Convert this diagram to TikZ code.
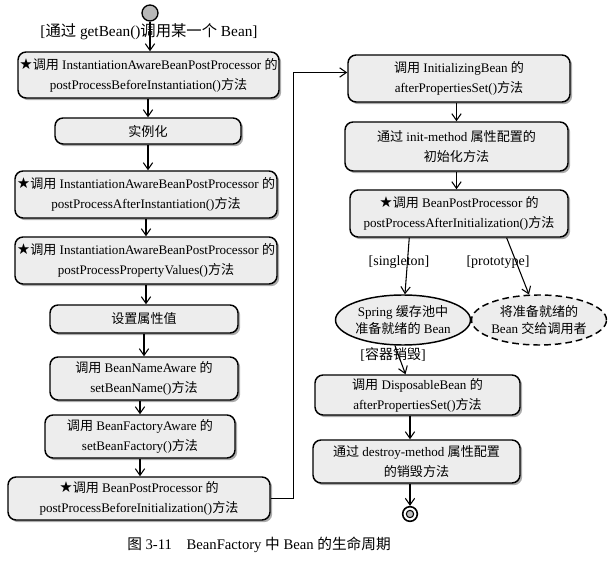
\documentclass[tikz,border=0pt]{standalone}
\usepackage{fontspec}
\setmainfont{Liberation Serif}
\newfontfamily\cjk{Noto Sans CJK SC}
\newfontfamily\symfont{DejaVu Sans}
\newcommand\zh[1]{{\cjk #1}}
\newcommand\bstar{{\symfont\scalebox{1.15}{★}}}
\usetikzlibrary{arrows.meta,shadows,shapes.geometric,calc}
\begin{document}
\begin{tikzpicture}[x=0.75pt,y=-0.75pt,
  arr/.style={draw=black,line width=0.8pt,-{Straight Barb[length=5pt,width=7pt,line width=0.8pt]}},
  boxbase/.style={draw=black,line width=1.1pt,rounded corners=6pt,fill=gray!14,
     drop shadow={shadow xshift=1.6pt,shadow yshift=-1.6pt,fill=gray!65,opacity=1},
     align=center,inner sep=0pt,font=\fontsize{9.8pt}{15pt}\selectfont},
  lab/.style={font=\fontsize{10.5pt}{12pt}\selectfont,inner sep=1pt},
  ell/.style={ellipse,draw=black,line width=1.1pt,fill=gray!14,align=center,inner sep=0pt,
     font=\fontsize{9.8pt}{13pt}\selectfont}
]
\useasboundingbox (0,0) rectangle (608,563);
% start
\node[circle,draw=black,line width=1pt,fill=gray!55,minimum size=12pt,inner sep=0pt] (start) at (150,13) {};
\node[lab,font=\fontsize{11.5pt}{13pt}\selectfont] (l0) at (149,32) {[\zh{通过} getBean()\zh{调用某一个} Bean]};
% left column
\node[boxbase,minimum width=261*0.75pt,minimum height=46*0.75pt] (b1) at (148.5,75)
 {\bstar\zh{调用} InstantiationAwareBeanPostProcessor \zh{的}\\postProcessBeforeInstantiation()\zh{方法}};
\node[boxbase,minimum width=186*0.75pt,minimum height=26*0.75pt] (b2) at (148,131) {\zh{实例化}};
\node[boxbase,minimum width=262*0.75pt,minimum height=47*0.75pt] (b3) at (146,194.5)
 {\bstar\zh{调用} InstantiationAwareBeanPostProcessor \zh{的}\\postProcessAfterInstantiation()\zh{方法}};
\node[boxbase,minimum width=262*0.75pt,minimum height=47*0.75pt] (b4) at (146,260.5)
 {\bstar\zh{调用} InstantiationAwareBeanPostProcessor \zh{的}\\postProcessPropertyValues()\zh{方法}};
\node[boxbase,minimum width=188*0.75pt,minimum height=28*0.75pt] (b5) at (144,319) {\zh{设置属性值}};
\node[boxbase,minimum width=188*0.75pt,minimum height=43*0.75pt] (b6) at (144,378.5)
 {\zh{调用} BeanNameAware \zh{的}\\setBeanName()\zh{方法}};
\node[boxbase,minimum width=190*0.75pt,minimum height=43*0.75pt] (b7) at (140,436.5)
 {\zh{调用} BeanFactoryAware \zh{的}\\setBeanFactory()\zh{方法}};
\node[boxbase,minimum width=262*0.75pt,minimum height=43*0.75pt] (b8) at (139,498.5)
 {\bstar\zh{调用} BeanPostProcessor \zh{的}\\postProcessBeforeInitialization()\zh{方法}};
% right column
\node[boxbase,minimum width=222*0.75pt,minimum height=47*0.75pt] (b9) at (459,78.5)
 {\zh{调用} InitializingBean \zh{的}\\afterPropertiesSet()\zh{方法}};
\node[boxbase,minimum width=223*0.75pt,minimum height=49*0.75pt] (b10) at (456.5,146.5)
 {\zh{通过} init-method \zh{属性配置的}\\\zh{初始化方法}};
\node[boxbase,minimum width=218*0.75pt,minimum height=47*0.75pt] (b11) at (459,213.5)
 {\bstar\zh{调用} BeanPostProcessor \zh{的}\\postProcessAfterInitialization()\zh{方法}};
\node[ell,minimum width=126*0.75pt,minimum height=50*0.75pt] (e1) at (403,320)
 {Spring \zh{缓存池中}\\\zh{准备就绪的} Bean};
\node[ell,dashed,dash pattern=on 5pt off 3pt,minimum width=128*0.75pt,minimum height=50*0.75pt] (e2) at (539,320)
 {\zh{将准备就绪的}\\Bean \zh{交给调用者}};
\node[boxbase,minimum width=205*0.75pt,minimum height=40*0.75pt] (b12) at (417.5,395)
 {\zh{调用} DisposableBean \zh{的}\\afterPropertiesSet()\zh{方法}};
\node[boxbase,minimum width=207*0.75pt,minimum height=43*0.75pt] (b13) at (416.5,461.5)
 {\zh{通过} destroy-method \zh{属性配置}\\\zh{的销毁方法}};
% end
\node[circle,draw=black,line width=1.2pt,fill=white,minimum size=11pt,inner sep=0pt] (end) at (410,514) {};
\node[circle,draw=black,line width=0.8pt,fill=gray!50,minimum size=5.5pt,inner sep=0pt] (endin) at (410,514) {};
% labels
\node[lab] (ls) at (399,262) {[singleton]};
\node[lab] (lp) at (498,262) {[prototype]};
\node[lab] (ld) at (393,355) {[\zh{容器销毁}]};
% caption
\node[font=\fontsize{11pt}{13pt}\selectfont,inner sep=0pt] (cap) at (259,545) {\zh{图} 3-11\quad BeanFactory \zh{中} Bean \zh{的生命周期}};
% connectors
\draw[arr] (start) -- (start |- b1.north);
\draw[arr] (b1.south -| b2) -- (b2.north);
\draw[arr] (b2.south) -- (b2.south |- b3.north);
\draw[arr] (b3.south) -- (b3.south |- b4.north);
\draw[arr] (b4.south) -- (b4.south |- b5.north);
\draw[arr] (b5.south) -- (b5.south |- b6.north);
\draw[arr] (b6.south -| b7) -- (b7.north);
\draw[arr] (b7.south) -- (b7.south |- b8.north);
\draw[arr,line width=0.6pt] (b8.east) -- ++(17pt,0) |- ([yshift=4.5pt]b9.west);
\draw[arr] (b9.south -| b10) -- (b10.north);
\draw[arr] (b10.south) -- (b10.south |- b11.north);
\draw[arr] ([xshift=45pt]b11.south west) -- (e1);
\draw[arr] ([xshift=118pt]b11.south west) -- (e2);
\draw[arr] ([xshift=-6pt]e1.south) -- ([xshift=-9pt]b12.north);
\draw[arr] (b12.south -| end) -- (end |- b13.north);
\draw[arr] (b13.south -| end) -- (end.north);
\end{tikzpicture}
\end{document}
